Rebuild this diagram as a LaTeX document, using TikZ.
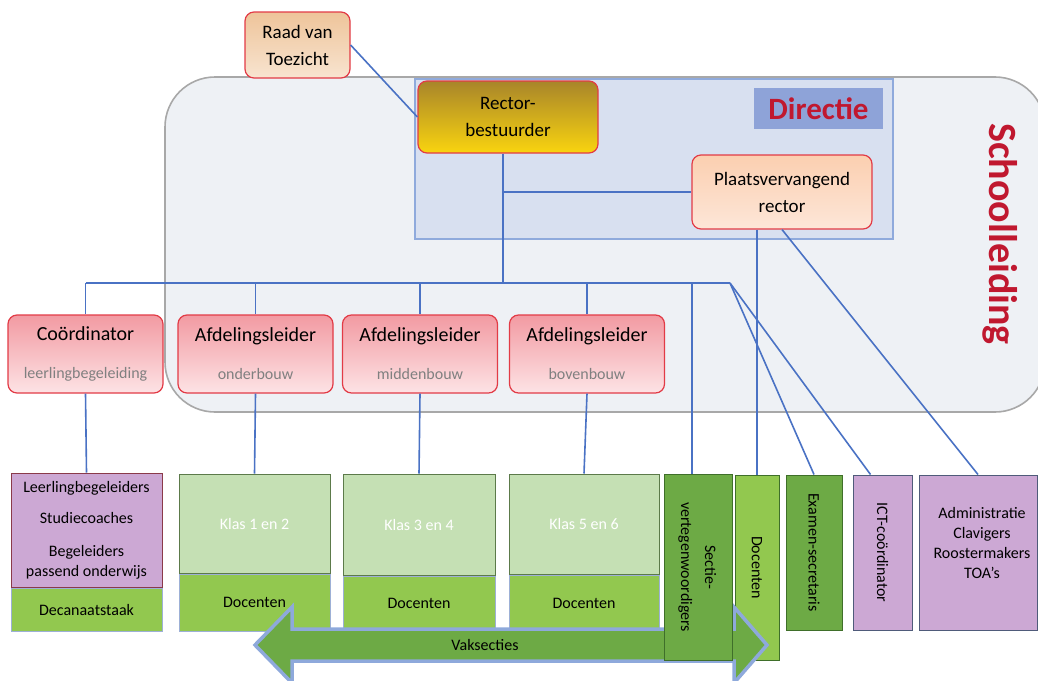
\documentclass[tikz,border=0pt]{standalone}
\usepackage{fontspec}
\setmainfont{Carlito}
\usepackage{graphicx}
\definecolor{lijnblauw}{HTML}{4A72C4}
\definecolor{rood}{HTML}{E23B46}
\definecolor{donkerrood}{HTML}{C0182F}
\definecolor{schoolbg}{HTML}{EEF1F5}
\definecolor{schoolrand}{HTML}{A8A8A8}
\definecolor{dirbg}{HTML}{D8E0F0}
\definecolor{dirrand}{HTML}{8FAADC}
\definecolor{dirlabel}{HTML}{8EA3D8}
\definecolor{raadb}{HTML}{EEC49A}
\definecolor{raado}{HTML}{F8E4D0}
\definecolor{goudb}{HTML}{A8852A}
\definecolor{goudo}{HTML}{F9D40F}
\definecolor{plvb}{HTML}{FBCFB0}
\definecolor{plvo}{HTML}{FDE6D8}
\definecolor{rozeb}{HTML}{F29AA2}
\definecolor{rozeo}{HTML}{FDE3E5}
\definecolor{subgrijs}{HTML}{808080}
\definecolor{paars}{HTML}{CCA8D4}
\definecolor{llbrand}{HTML}{8B3A4A}
\definecolor{paarsrand}{HTML}{4F5B7A}
\definecolor{lichtgroen}{HTML}{C5E0B4}
\definecolor{klasrand}{HTML}{5C7A4A}
\definecolor{groen}{HTML}{92C84F}
\definecolor{grijsblauw}{HTML}{9DB0D6}
\definecolor{donkergroen}{HTML}{6DAA45}
\definecolor{donkergroenrand}{HTML}{3F6F2A}
\definecolor{pijlrand}{HTML}{8EA9DB}
\newcommand{\ondertitel}[1]{{\fontsize{16}{20}\selectfont\color{subgrijs}#1}}
\begin{document}
\begin{tikzpicture}[x=1pt,y=-1pt,
    lijn/.style={draw=lijnblauw,line width=1.6pt},
    bestuur/.style={draw=rood,line width=1.2pt,rounded corners=9pt,align=center,inner sep=0pt,font=\fontsize{19}{27}\selectfont},
    leider/.style={bestuur,top color=rozeb,bottom color=rozeo,minimum width=155,minimum height=78,font=\fontsize{20}{24}\selectfont},
    vak/.style={draw=#1,line width=1pt,inner sep=0pt,align=center,font=\fontsize{16}{20}\selectfont}]
    \useasboundingbox (0,0) rectangle (1038,680);
    % schoolleiding en directie
    \draw[fill=schoolbg,draw=schoolrand,line width=1.6pt,rounded corners=50pt] (165,77) rectangle (1045,412);
    \node[text=donkerrood,font=\fontsize{40}{40}\selectfont\bfseries,rotate=-90] (schoolleiding) at (1000,234) {Schoolleiding};
    \draw[fill=dirbg,draw=dirrand,line width=1.2pt] (415,79) rectangle (893,239);
    \node[fill=dirlabel,text=donkerrood,font=\fontsize{31}{31}\selectfont\bfseries,minimum width=129,minimum height=41,inner sep=0pt] (directie) at (818.5,108.5) {Directie};
    % bestuur
    \node[bestuur,top color=raadb,bottom color=raado,minimum width=105,minimum height=66] (raad) at (297.5,45) {Raad van\\Toezicht};
    \node[bestuur,top color=goudb,bottom color=goudo,minimum width=180,minimum height=72] (rector) at (508,117) {Rector-\\bestuurder};
    \node[bestuur,top color=plvb,bottom color=plvo,minimum width=180,minimum height=74] (plv) at (782,192) {Plaatsvervangend\\rector};
    % leiders
    \node[leider] (coord) at (85.5,354) {Coördinator\\[14pt]\ondertitel{leerlingbegeleiding}};
    \node[leider] (afd1) at (255.5,354) {Afdelingsleider\\[14pt]\ondertitel{onderbouw}};
    \node[leider] (afd2) at (420,354) {Afdelingsleider\\[14pt]\ondertitel{middenbouw}};
    \node[leider] (afd3) at (587,354) {Afdelingsleider\\[14pt]\ondertitel{bovenbouw}};
    % groepen
    \node[vak=llbrand,fill=paars,minimum width=151,minimum height=114] (llb) at (86.5,530) {Leerlingbegeleiders\\[11pt]Studiecoaches\\[13pt]Begeleiders\\passend onderwijs};
    \node[vak=grijsblauw,fill=groen,minimum width=151,minimum height=43,anchor=north] (dec) at (llb.south) {Decanaatstaak};
    \node[vak=klasrand,fill=lichtgroen,text=white,minimum width=151,minimum height=99] (klas12) at (254.5,523.5) {Klas 1 en 2};
    \node[vak=grijsblauw,fill=groen,minimum width=151,minimum height=57,anchor=north] (doc12) at (klas12.south) {Docenten};
    \node[vak=klasrand,fill=lichtgroen,text=white,minimum width=152,minimum height=101] (klas34) at (419,524.5) {Klas 3 en 4};
    \node[vak=grijsblauw,fill=groen,minimum width=152,minimum height=55,anchor=north] (doc34) at (klas34.south) {Docenten};
    \node[vak=klasrand,fill=lichtgroen,text=white,minimum width=150,minimum height=100] (klas56) at (584,524) {Klas 5 en 6};
    \node[vak=grijsblauw,fill=groen,minimum width=150,minimum height=56,anchor=north] (doc56) at (klas56.south) {Docenten};
    \node[vak=donkergroenrand,fill=groen,minimum width=44,minimum height=185] (docv) at (757,567.5) {\rotatebox{-90}{Docenten}};
    % vaksecties
    \draw[fill=donkergroen,draw=pijlrand,line width=3.5pt,line join=miter] (255,645) -- (292,607) -- (292,629) -- (734,629) -- (734,607) -- (767,645) -- (734,683) -- (734,661) -- (292,661) -- (292,683) -- cycle;
    \node[font=\fontsize{16}{20}\selectfont] (vaksecties) at (485,645) {Vaksecties};
    \node[vak=donkergroenrand,fill=donkergroen,minimum width=68,minimum height=186,font=\fontsize{16}{24}\selectfont] (sectie) at (698,567) {\rotatebox{-90}{\begin{tabular}{@{}c@{}}Sectie-\\vertegenwoordigers\end{tabular}}};
    \node[vak=donkergroenrand,fill=donkergroen,minimum width=56,minimum height=155] (exam) at (814,552.5) {\rotatebox{-90}{Examen-secretaris}};
    \node[vak=paarsrand,fill=paars,minimum width=59,minimum height=155] (ict) at (882.5,552.5) {\rotatebox{-90}{ICT-coördinator}};
    \node[vak=paarsrand,fill=paars,minimum width=118,minimum height=155] (admin) at (978,552.5) {\hspace*{8pt}\raisebox{8pt}[\height][\depth]{\begin{tabular}{@{}c@{}}Administratie\\Clavigers\\Roostermakers\\TOA’s\end{tabular}}};
    % lijnen
    \coordinate (busR) at (730,283);
    \draw[lijn] (coord.north |- busR) -- (busR);
    \draw[lijn] (raad.east) -- (rector.west);
    \draw[lijn] ([xshift=-5]rector.south) -- ([xshift=-5]rector.south |- busR);
    \draw[lijn] ([xshift=-5]rector.south |- plv.west) -- (plv.west);
    \foreach \n/\m in {coord/llb,afd1/klas12,afd2/klas34,afd3/klas56} {
        \draw[lijn] (\n.north |- busR) -- (\n.north);
        \draw[lijn] (\n.south) -- (\m.north);
    }
    \draw[lijn] ([xshift=-6]sectie.north |- busR) -- ([xshift=-6]sectie.north);
    \draw[lijn] (busR) -- (exam.north);
    \draw[lijn] (busR) -- ([xshift=-12]ict.north);
    \draw[lijn] (docv.north |- plv.south) -- (docv.north);
    \draw[lijn] (plv.south) -- (admin.north);
\end{tikzpicture}
\end{document}
